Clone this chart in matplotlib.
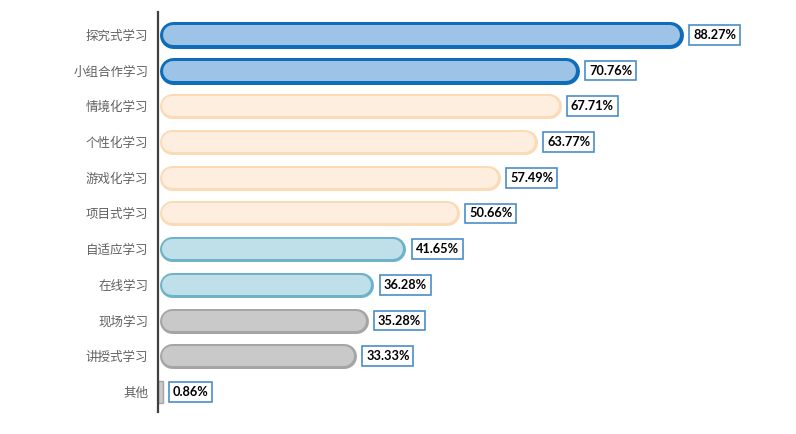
import matplotlib
matplotlib.use("Agg")
import matplotlib.pyplot as plt

categories = ["探究式学习", "小组合作学习", "情境化学习", "个性化学习", "游戏化学习",
              "项目式学习", "自适应学习", "在线学习", "现场学习", "讲授式学习", "其他"]
values = [88.27, 70.76, 67.71, 63.77, 57.49, 50.66, 41.65, 36.28, 35.28, 33.33, 0.86]
labels = ["88.27%", "70.76%", "67.71%", "63.77%", "57.49%", "50.66%",
          "41.65%", "36.28%", "35.28%", "33.33%", "0.86%"]

# fill, edge, edge width (px) per group
styles = ([("#9DC3E6", "#0E6CB8", 3.5)] * 2 +
          [("#FDEEDF", "#FADBB5", 2.5)] * 4 +
          [("#BFDFE9", "#6DB2C9", 2.5)] * 2 +
          [("#C9C9C9", "#A5A5A5", 2.5)] * 3)

W, H, DPI = 796, 434, 100
fig = plt.figure(figsize=(W / DPI, H / DPI), dpi=DPI)
ax_left, ax_right, ax_top, ax_bot = 158, 758, 12, 412
ax = fig.add_axes([ax_left / W, (H - ax_bot) / H, (ax_right - ax_left) / W, (ax_bot - ax_top) / H])

xmax = 100.8
ax.set_xlim(0, xmax)
ax.set_ylim(len(values) - 1 + 0.56, -0.64)
px_per_unit = (ax_right - ax_left) / xmax
pt = 72 / DPI

bar_h = 25
for i, (v, (fc, ec, ew)) in enumerate(zip(values, styles)):
    h = bar_h + (2 if i < 2 else 0)
    r = (h / 2) / px_per_unit
    if v > 2 * r:
        x0, x1 = 0.2 + r, v - r
        ax.plot([x0, x1], [i, i], color=ec, lw=h * pt, solid_capstyle="round", zorder=2)
        ax.plot([x0, x1], [i, i], color=fc, lw=(h - 2 * ew) * pt, solid_capstyle="round", zorder=3)
    else:
        ax.barh(i, v, height=22 / 35.7, color=fc, edgecolor=ec, lw=1, zorder=2)
    ax.annotate(labels[i], xy=(v, i), xytext=(7, 0), textcoords="offset points",
                ha="left", va="center", fontsize=9.2, fontweight="bold",
                family=["Lato", "DejaVu Sans"], color="black",
                bbox=dict(boxstyle="square,pad=0.3", fc="white", ec="#4A8FC8", lw=1.2),
                zorder=5)

ax.set_yticks(range(len(categories)))
ax.set_yticklabels(categories, family=["Noto Sans CJK SC", "DejaVu Sans"],
                   fontsize=9, color="#606060")
ax.tick_params(axis="y", length=0, pad=7)
ax.set_xticks([])
for s in ["top", "right", "bottom"]:
    ax.spines[s].set_visible(False)
ax.spines["left"].set_color("#404040")
ax.spines["left"].set_linewidth(1.6)

fig.savefig("out.png", dpi=DPI)
